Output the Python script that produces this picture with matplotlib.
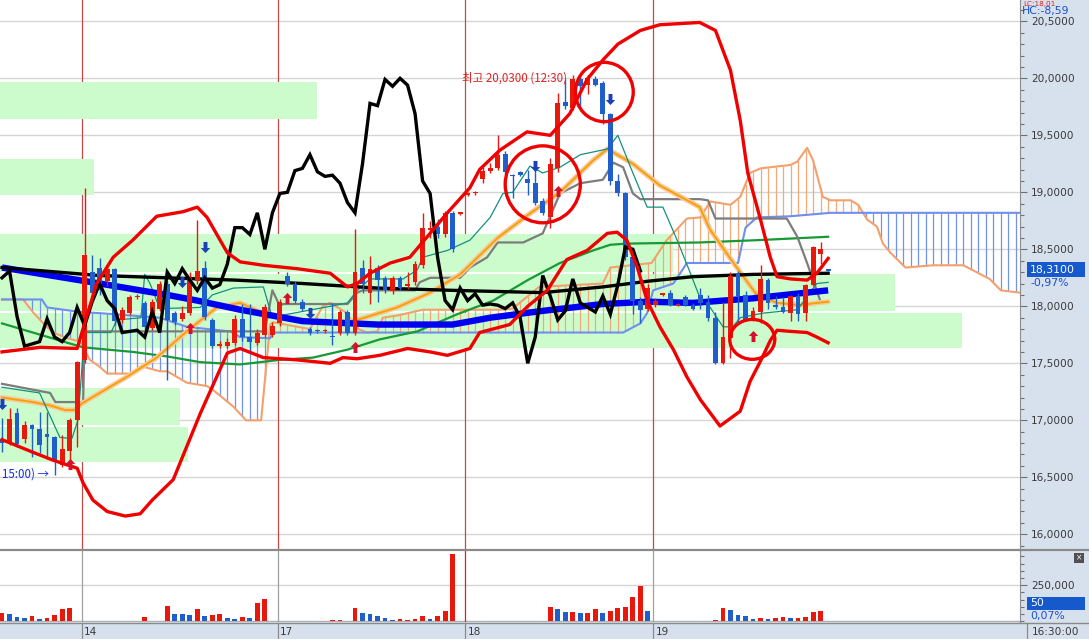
import numpy as np
import matplotlib
matplotlib.use("Agg")
import matplotlib.pyplot as plt
import matplotlib.transforms as mtransforms
from matplotlib.patches import Rectangle, Ellipse
from matplotlib.lines import Line2D
from matplotlib.path import Path
from matplotlib.ticker import FixedLocator, MultipleLocator, FuncFormatter

plt.rcParams['font.family'] = ['DejaVu Sans']
KR = ['Noto Sans CJK KR', 'DejaVu Sans']

# ---------------- data ----------------
opens = [16.84, 16.81, 17.06, 16.84, 16.96, 16.92, 16.88, 16.85, 16.61, 16.73,
         17.00, 17.53, 18.30, 18.34, 18.22, 18.33, 17.88, 17.94, 18.08, 18.03,
         17.81, 17.98, 18.20, 17.94, 17.89, 17.94, 18.22, 18.34, 17.88, 17.65,
         17.65, 17.68, 17.89, 17.73, 17.68, 17.75, 17.75, 17.85, 18.27, 18.20,
         18.04, 17.80, 17.79, 17.78, 17.74, 17.77, 17.95, 17.77, 18.34, 18.12,
         18.34, 18.25, 18.13, 18.25, 18.18, 18.21, 18.36, 18.67, 18.70, 18.63,
         18.82, 18.81, 18.98, 18.99, 19.12, 19.19, 19.21, 19.34, 19.15, 19.18,
         19.12, 19.08, 18.92, 18.78, 19.21, 19.79, 19.74, 19.99, 19.94, 19.99,
         19.96, 19.69, 19.10, 18.99, 18.43, 18.05, 17.98, 18.01, 18.10, 18.12,
         18.01, 18.08, 18.01, 18.10, 18.04, 17.90, 17.50, 17.72, 18.28, 18.10,
         17.89, 17.95, 18.23, 18.01, 17.99, 17.94, 18.09, 17.94, 18.19, 18.46,
         18.32]
highs = [17.02, 17.11, 17.11, 16.99, 16.97, 17.07, 17.07, 16.86, 16.87, 17.02,
         17.52, 19.04, 18.45, 18.42, 18.36, 18.34, 17.99, 18.10, 18.11, 18.05,
         18.06, 18.22, 18.22, 17.96, 18.00, 18.30, 18.76, 18.40, 17.90, 17.70,
         17.72, 17.92, 18.02, 18.02, 17.80, 18.02, 17.86, 18.06, 18.30, 18.22,
         18.06, 17.82, 17.80, 17.80, 18.03, 17.97, 17.97, 18.68, 18.41, 18.44,
         18.36, 18.27, 18.27, 18.27, 18.30, 18.40, 18.82, 18.75, 18.77, 18.84,
         18.84, 18.83, 19.00, 19.01, 19.22, 19.26, 19.50, 19.36, 19.16, 19.19,
         19.20, 19.20, 18.95, 19.30, 19.87, 19.99, 20.03, 20.02, 20.03, 20.02,
         19.98, 19.70, 19.16, 19.00, 18.50, 18.08, 18.20, 18.07, 18.12, 18.14,
         18.03, 18.10, 18.03, 18.16, 18.10, 17.95, 18.04, 18.30, 18.31, 18.13,
         17.99, 18.36, 18.25, 18.09, 18.08, 18.10, 18.12, 18.20, 18.53, 18.56,
         18.32]
lows = [16.72, 16.78, 16.77, 16.80, 16.68, 16.71, 16.66, 16.52, 16.59, 16.63,
        16.77, 17.50, 18.05, 18.10, 18.18, 17.84, 17.85, 17.92, 18.06, 17.80,
        17.79, 17.96, 17.35, 17.84, 17.87, 17.92, 18.20, 17.88, 17.63, 17.63,
        17.63, 17.66, 17.70, 17.60, 17.66, 17.73, 17.73, 17.83, 18.18, 18.03,
        17.96, 17.75, 17.77, 17.77, 17.66, 17.75, 17.75, 17.75, 18.12, 18.02,
        18.04, 18.12, 18.11, 18.14, 18.15, 18.19, 18.34, 18.60, 18.60, 18.61,
        18.48, 18.80, 18.97, 18.98, 19.08, 19.17, 19.20, 19.16, 18.95, 19.14,
        18.98, 18.89, 18.80, 18.69, 19.18, 19.73, 19.72, 19.76, 19.86, 19.93,
        19.60, 19.06, 18.97, 18.41, 17.93, 17.85, 17.96, 17.99, 18.09, 18.00,
        18.00, 18.00, 17.97, 17.98, 17.87, 17.49, 17.49, 17.55, 17.86, 17.87,
        17.87, 17.85, 17.98, 17.98, 17.94, 17.87, 17.87, 17.87, 18.18, 18.37,
        18.31]
closes = [16.80, 17.01, 16.79, 16.96, 16.92, 16.78, 16.85, 16.64, 16.75, 17.00,
          17.51, 18.45, 18.12, 18.14, 18.33, 17.87, 17.97, 18.08, 18.09, 17.82,
          18.04, 18.20, 17.88, 17.86, 17.94, 18.25, 18.31, 17.91, 17.65, 17.67,
          17.69, 17.89, 17.73, 17.69, 17.77, 17.99, 17.83, 18.04, 18.20, 18.05,
          17.98, 17.77, 17.78, 17.79, 17.73, 17.95, 17.77, 18.30, 18.20, 18.33,
          18.23, 18.14, 18.25, 18.16, 18.19, 18.37, 18.69, 18.69, 18.63, 18.82,
          18.50, 18.82, 18.99, 19.00, 19.19, 19.21, 19.33, 19.18, 19.14, 19.15,
          19.08, 18.91, 18.82, 19.25, 19.78, 19.76, 19.99, 19.93, 20.00, 19.94,
          19.69, 19.10, 18.99, 18.43, 18.05, 17.97, 18.16, 18.05, 18.11, 18.01,
          18.02, 18.01, 17.98, 18.03, 17.90, 17.50, 17.73, 18.27, 18.09, 17.88,
          17.96, 18.24, 18.03, 17.99, 17.95, 18.09, 17.93, 18.19, 18.52, 18.50,
          18.31]
volume_k = [60, 51, 30, 23, 37, 16, 23, 44, 86, 93,
            5, 5, 5, 5, 5, 5, 5, 5, 5, 30,
            5, 5, 106, 51, 51, 46, 86, 37, 44, 51,
            23, 16, 30, 23, 127, 155, 5, 5, 5, 5,
            5, 5, 5, 5, 9, 9, 5, 93, 58, 51,
            35, 23, 9, 16, 9, 16, 37, 19, 37, 72,
            468, 5, 5, 5, 5, 5, 5, 5, 5, 5,
            5, 5, 5, 100, 86, 65, 65, 58, 58, 86,
            58, 72, 93, 100, 169, 245, 72, 5, 5, 5,
            5, 5, 5, 5, 5, 9, 93, 79, 44, 37,
            16, 23, 16, 23, 30, 23, 23, 30, 65, 72,
            3]
volume_up = [1, 0, 0, 0, 1, 0, 1, 1, 1, 1,
             0, 0, 0, 1, 1, 1, 1, 0, 1, 1,
             0, 0, 1, 0, 0, 0, 1, 0, 1, 1,
             0, 0, 1, 0, 1, 1, 1, 0, 1, 1,
             1, 0, 1, 1, 1, 1, 0, 1, 0, 0,
             0, 0, 0, 1, 1, 1, 1, 0, 1, 1,
             1, 0, 0, 0, 1, 1, 1, 1, 0, 0,
             0, 0, 0, 1, 0, 0, 1, 0, 1, 1,
             0, 1, 1, 1, 1, 1, 0, 0, 0, 0,
             1, 1, 0, 1, 1, 1, 1, 0, 0, 0,
             0, 1, 0, 1, 1, 0, 1, 1, 1, 1,
             0]
lag_shift = 25

# overlay lines: (bar index, price) vertices
tenkan_x = [0, 5, 7.7, 9.3, 10.1, 11, 14.5, 15.3, 18.5, 19, 19.7, 21, 26.4, 28, 30.8, 34.8, 36, 38, 43.7, 46,
            47.3, 49, 53.4, 55.3, 56, 59.3, 62.3, 65, 66.7, 68, 70.3, 72, 74.3, 77, 80.6, 82, 84, 85.9, 88, 89.9,
            91.6, 92.9, 94.3, 96, 97.3, 98.3, 101.3, 105.9, 108.5, 110]
tenkan_y = [17.29, 17.24, 16.85, 16.84, 17.0, 17.77, 17.77, 17.88, 17.9, 18.28, 18.2, 17.98, 17.99, 18.1, 18.16,
            18.17, 17.9, 17.93, 18.0, 18.03, 18.14, 18.24, 18.24, 18.32, 18.43, 18.49, 18.58, 18.78, 18.99, 19.0,
            19.23, 19.17, 19.22, 19.33, 19.38, 19.5, 19.17, 18.87, 18.87, 18.58, 18.3, 18.08, 17.99, 17.82, 17.82,
            17.9, 17.94, 17.97, 18.2, 18.21]
kijun_x = [0, 4, 6.4, 7.1, 10.8, 11, 31, 35, 36, 37, 37.4, 46, 47.3, 48, 55, 55.6, 57, 61, 62.3, 64.6,
           66, 69.4, 72, 74.3, 77, 80, 81.4, 82.7, 84, 85, 92.9, 94, 95, 104.5, 105.9, 107.2, 109, 110]
kijun_y = [17.32, 17.27, 17.24, 17.16, 17.16, 17.78, 17.78, 17.78, 18.14, 18.0, 18.02, 18.02, 18.12, 18.14, 18.14,
           18.21, 18.25, 18.25, 18.34, 18.43, 18.56, 18.56, 18.64, 18.99, 19.08, 19.11, 19.26, 19.22, 18.99, 18.94,
           18.94, 18.93, 18.77, 18.77, 18.61, 18.38, 18.04, 18.04]
span_a_x = [0, 2.8, 4.1, 5.5, 6.8, 8.7, 10.4, 11.7, 13, 14, 17.4, 18.8, 21, 22, 24.6, 27.3, 28.6, 30.8, 32.5, 34.5,
            35.7, 36.1, 41, 42.7, 43.7, 45.7, 47.5, 48.6, 50, 50.7, 52.7, 56, 66.3, 68, 71.5, 80, 81, 86.5, 88.5,
            91.2, 93, 94.3, 97, 98.3, 99.6, 101, 105, 105.9, 107.2, 108, 109.3, 110.3, 113, 114, 115.2, 116.5,
            117.3, 118.3, 120.3, 124, 128, 131.5, 133, 135.5]
span_a_y = [18.06, 18.06, 17.95, 17.85, 17.77, 17.72, 17.69, 17.53, 17.47, 17.41, 17.41, 17.47, 17.43, 17.43, 17.33,
            17.3, 17.24, 17.12, 17.0, 17.0, 17.84, 17.86, 17.8, 18.0, 18.03, 17.95, 17.8, 17.77, 17.78, 17.9, 17.92,
            17.97, 17.97, 17.98, 18.17, 18.2, 18.34, 18.38, 18.58, 18.77, 18.78, 18.92, 18.89, 18.96,
            19.17, 19.21, 19.24, 19.27, 19.39, 19.28, 18.96, 18.93, 18.93, 18.89, 18.76, 18.7, 18.55, 18.47, 18.34,
            18.36, 18.36, 18.24, 18.14, 18.12]
span_b_x = [0, 5.3, 6, 10.4, 13, 21, 24.6, 30.4, 31.7, 35.7, 36.1, 82.7, 85, 85.9, 86.7, 89.4, 91.2, 98, 99,
            100.5, 105, 110.3, 135.5]
span_b_y = [18.06, 18.06, 17.99, 17.95, 17.94, 17.9, 17.82, 17.78, 17.73, 17.72, 17.77, 17.77, 17.85, 17.94, 18.14,
            18.2, 18.38, 18.38, 18.69, 18.78, 18.79, 18.82, 18.82]
ma_orange_x = [0, 4.1, 6.4, 8.4, 9.7, 10.7, 16.6, 20.6, 24.6, 28.6, 31.7, 34.8, 38, 42.7, 47.3, 52.6, 57, 61, 66,
               70, 74.3, 78.7, 80.6, 84, 87.6, 92.9, 94.3, 97.4, 100.5, 103.2, 106.3, 108.5, 110]
ma_orange_y = [17.2, 17.16, 17.13, 17.09, 17.09, 17.15, 17.38, 17.55, 17.78, 17.99, 18.03, 17.94, 17.9, 17.85,
               17.88, 17.99, 18.12, 18.28, 18.6, 18.8, 19.0, 19.28, 19.38, 19.25, 19.06, 18.87, 18.67, 18.38, 18.1,
               18.03, 18.01, 18.03, 18.04]
ma_green_x = [0, 4.1, 8.7, 10.8, 17.4, 22, 26.4, 31.7, 37, 41.4, 46, 50.3, 55.3, 60.6, 65.4, 70, 74.3, 78.7, 81,
              83.2, 92.9, 100.5, 110]
ma_green_y = [17.85, 17.77, 17.68, 17.64, 17.6, 17.56, 17.51, 17.49, 17.53, 17.55, 17.62, 17.71, 17.78, 17.93,
              18.05, 18.23, 18.38, 18.49, 18.54, 18.55, 18.56, 18.58, 18.61]
ma_blue_x = [0, 13, 22, 26, 31.7, 40, 50, 60, 65, 72, 80, 86, 92, 100, 110]
ma_blue_y = [18.34, 18.2, 18.1, 18.05, 17.97, 17.87, 17.84, 17.84, 17.9, 17.96, 18.02, 18.04, 18.03, 18.07, 18.14]
ma_black_x = [0, 13, 31, 40, 50, 60, 72, 80, 86, 92, 100, 110]
ma_black_y = [18.34, 18.27, 18.23, 18.2, 18.16, 18.14, 18.12, 18.17, 18.22, 18.26, 18.28, 18.29]
band_up_x = [0, 5.1, 10, 12.6, 14.8, 17.4, 20.6, 24.1, 26, 27.3, 30, 31.7, 34.8, 39.3, 43.7, 46, 47.3, 49, 51.7,
             54.3, 57, 59.3, 62.3, 63.6, 66.3, 69.9, 73, 75.6, 77.9, 80, 82, 85, 87.6, 92.9, 95, 97, 98.3, 99.3,
             101, 102.3, 103.2, 105, 107.2, 108.5, 110]
band_up_y = [17.6, 17.64, 17.63, 18.2, 18.43, 18.58, 18.79, 18.83, 18.87, 18.78, 18.47, 18.39, 18.36, 18.33, 18.29,
             18.17, 18.2, 18.29, 18.38, 18.43, 18.64, 18.82, 19.04, 19.2, 19.37, 19.53, 19.5, 19.69, 19.99, 20.16,
             20.3, 20.42, 20.47, 20.49, 20.42, 20.07, 19.63, 19.17, 18.76, 18.43, 18.26, 18.24, 18.23, 18.29, 18.42]
band_lo_x = [0, 4.1, 6.8, 10, 10.8, 12.1, 14, 16.4, 18.4, 20, 22.8, 26.4, 30, 31.7, 34.8, 39.3, 43.7, 45.4, 47.3,
             50.3, 54, 57, 59.3, 62.3, 63.6, 67.6, 70, 72.6, 75.2, 77.9, 80.6, 81.9, 83.2, 84.6, 85.9, 87.6, 89.4,
             91.2, 93, 95.6, 98.3, 99.6, 101, 102.3, 103.2, 105, 107.2, 108.5, 110]
band_lo_y = [16.83, 16.72, 16.65, 16.58, 16.45, 16.3, 16.2, 16.16, 16.18, 16.3, 16.48, 17.06, 17.59, 17.63, 17.55,
             17.53, 17.5, 17.55, 17.54, 17.57, 17.63, 17.6, 17.57, 17.63, 17.77, 17.84, 18.0, 18.14, 18.41, 18.49,
             18.64, 18.65, 18.58, 18.34, 18.05, 17.82, 17.62, 17.38, 17.18, 16.95, 17.08, 17.34, 17.52, 17.7, 17.79,
             17.78, 17.77, 17.73, 17.68]

# price-by-volume zones (low, high, relative volume %)
profile_low = [19.64, 18.98, 18.30, 17.96, 17.63, 16.96, 16.63]
profile_high = [19.97, 19.29, 18.63, 18.28, 17.94, 17.28, 16.94]
profile_pct = [31.1, 9.2, 66.0, 87.7, 94.3, 17.6, 18.4]

# signals
buy_idx = [9, 25, 38, 47, 74, 100]
buy_price = [16.62, 17.81, 18.07, 17.64, 19.01, 17.74]
sell_idx = [0, 24, 27, 41, 71, 81]
sell_price = [17.14, 18.21, 18.52, 17.94, 19.23, 19.82]

# highlight circles (center idx, center price, width in bars, height in price)
circle_idx = [72.0, 80.2, 99.9]
circle_price = [19.07, 19.88, 17.71]
circle_w = [10.0, 7.7, 6.0]
circle_h = [0.675, 0.52, 0.35]

day_pos = [10.6, 36.7, 61.7, 86.7]
day_labels = ['14', '17', '18', '19']
last_price = 18.31
last_change = '-0,97%'
last_volume = 50
last_vol_change = '0,07%'

# ---------------- figure ----------------
W, H, DPI = 1089, 639, 100
fig = plt.figure(figsize=(W / DPI, H / DPI), dpi=DPI)
fig.patch.set_facecolor('white')


def fx(px):
    return px / W


def fy(py):
    return 1 - py / H


PANEL = '#d7e1ee'
RED = '#e8190c'
BLUE = '#1f5fcc'
fig.add_artist(Rectangle((fx(1020), 0), 1 - fx(1020), 1, transform=fig.transFigure,
                         fc=PANEL, ec='none', zorder=-10))
fig.add_artist(Rectangle((0, 0), fx(1020), fy(622), transform=fig.transFigure,
                         fc=PANEL, ec='none', zorder=-10))

ax = fig.add_axes([0, fy(549), fx(1020), 549 / H])
vax = fig.add_axes([0, fy(622), fx(1020), 71 / H])
X0, X1 = -0.27, 135.55
ax.set_xlim(X0, X1)
ax.set_ylim(15.871, 20.687)
vax.set_xlim(X0, X1)
vax.set_ylim(-5000, 488000)

for a in (ax, vax):
    for s in ('top', 'left', 'bottom'):
        a.spines[s].set_visible(False)
    a.spines['right'].set_color('#8c8c8c')
    a.set_xticks([])
    a.yaxis.tick_right()

fmt_price = FuncFormatter(lambda v, p: f"{v:.4f}".replace('.', ','))
ax.yaxis.set_major_locator(FixedLocator(np.arange(16.0, 20.51, 0.5)))
ax.yaxis.set_minor_locator(MultipleLocator(0.1))
ax.yaxis.set_major_formatter(fmt_price)
for a in (ax, vax):
    a.tick_params(axis='y', which='major', direction='out', length=5, width=0.8,
                  colors='#707070', labelcolor='#3a3a3a', labelsize=7.6, pad=3)
    a.tick_params(axis='y', which='minor', direction='out', length=3, width=0.8, colors='#707070')
vax.yaxis.set_major_locator(FixedLocator([250000]))
vax.yaxis.set_minor_locator(MultipleLocator(50000))
vax.yaxis.set_major_formatter(FuncFormatter(lambda v, p: f"{int(v):,}"))

# grid & day lines
for v in np.arange(16.0, 20.51, 0.5):
    ax.axhline(v, color='#d5d5d5', lw=1, zorder=0.1)
for p in day_pos:
    ax.axvline(p, color='#c44a4a', lw=0.9, zorder=0.2)
for p, lab in zip(day_pos, day_labels):
    vax.axvline(p, color='#e02020' if lab == '18' else '#a0a0a0', lw=0.9, zorder=0.2)
vax.axhline(250000, color='#d5d5d5', lw=1, zorder=0.1)
vax.axhline(0, color='#b0b0b0', lw=1, zorder=0.1)

# price-by-volume zones
tr_ax_data = mtransforms.blended_transform_factory(ax.transAxes, ax.transData)
for lo, hi, pct in zip(profile_low, profile_high, profile_pct):
    ax.add_patch(Rectangle((0, lo), pct / 100, hi - lo, transform=tr_ax_data,
                           fc='#ccfccc', ec='none', zorder=0.5))

# ichimoku cloud hatching
k = np.arange(0, 136)
a_k = np.interp(k, span_a_x, span_a_y)
b_k = np.interp(k, span_b_x, span_b_y)
ax.vlines(k, np.minimum(a_k, b_k), np.maximum(a_k, b_k),
          colors=np.where(a_k >= b_k, '#f5a874', '#7094ee'), lw=0.9, zorder=1)
ax.plot(span_a_x, span_a_y, color='#f4a06c', lw=1.5, zorder=1.2)
ax.plot(span_b_x, span_b_y, color='#6f8ff0', lw=1.5, zorder=1.2)

# moving averages & ichimoku lines
ax.plot(ma_green_x, ma_green_y, color='#169a34', lw=1.6, zorder=1.5)
ax.plot(kijun_x, kijun_y, color='#7c7c7c', lw=1.6, zorder=1.6)
ax.plot(ma_orange_x, ma_orange_y, color='#fcc69a', lw=3.6, zorder=1.7, solid_capstyle='round')
ax.plot(ma_orange_x, ma_orange_y, color='#f2a200', lw=1.3, zorder=1.8)
ax.plot(tenkan_x, tenkan_y, color='#14907e', lw=0.9, zorder=1.9)
ax.plot(ma_blue_x, ma_blue_y, color='#0000f0', lw=4.6, zorder=2.2, solid_capstyle='butt')
ax.plot(ma_black_x, ma_black_y, color='#000000', lw=2.4, zorder=2.3)

# candles
x = np.arange(len(opens))
o, h, l, c = (np.array(v, dtype=float) for v in (opens, highs, lows, closes))
col = np.where(c >= o, RED, BLUE)
body_lo = np.minimum(o, c)
body_h = np.maximum(np.abs(c - o), 0.013)
ax.vlines(x, l, h, colors=col, lw=1.0, zorder=3)
ax.bar(x, body_h, bottom=body_lo, width=0.64, color=col, lw=0, zorder=3.1)

# lagging span (close shifted back)
ax.plot(x[:len(x) - lag_shift], c[lag_shift:], color='#000000', lw=2.4, zorder=3.5,
        solid_joinstyle='miter')

# envelope bands
ax.plot(band_up_x, band_up_y, color='#f00000', lw=2.4, zorder=4)
ax.plot(band_lo_x, band_lo_y, color='#f00000', lw=2.4, zorder=4)

# circles
for cx, cy, w, hh in zip(circle_idx, circle_price, circle_w, circle_h):
    ax.add_patch(Ellipse((cx, cy), w, hh, fill=False, ec='#f00000', lw=2.4, zorder=4.5))

# signal arrows
ARROW_UP = Path([(0, 1), (0.85, 0.1), (0.35, 0.1), (0.35, -1), (-0.35, -1), (-0.35, 0.1), (-0.85, 0.1), (0, 1)])
ARROW_DN = Path([(0, -1), (0.85, -0.1), (0.35, -0.1), (0.35, 1), (-0.35, 1), (-0.35, -0.1), (-0.85, -0.1), (0, -1)])
ax.plot(buy_idx, buy_price, ls='none', marker=ARROW_UP, ms=8, mfc='#d4102c', mec='none', zorder=5)
ax.plot(sell_idx, sell_price, ls='none', marker=ARROW_DN, ms=8, mfc='#1a3fb8', mec='none', zorder=5)

# annotations
ax.text(61.2, 20.005, '최고 20,0300 (12:30)', color='#e42222', fontsize=8.3, family=KR,
        va='center', ha='left', zorder=6)
ax.text(0.0, 16.53, '15:00) →', color='#1030e0', fontsize=8.3, family=KR,
        va='center', ha='left', zorder=6)

# volume bars
vcol = np.where(np.array(volume_up) == 1, RED, BLUE)
vax.bar(x, np.array(volume_k) * 1000, width=0.64, color=vcol, lw=0, zorder=2)

# separators
fig.add_artist(Line2D([0, 1], [fy(550), fy(550)], transform=fig.transFigure, color='#8a8a8a', lw=1.6, zorder=5))
fig.add_artist(Line2D([0, 1], [fy(622.5), fy(622.5)], transform=fig.transFigure, color='#8a8a8a', lw=1.0, zorder=5))
fig.add_artist(Line2D([fx(1027), fx(1027)], [0, fy(623)], transform=fig.transFigure, color='#8a8a8a', lw=0.9, zorder=5))

# date strip
tr_x_fig = mtransforms.blended_transform_factory(ax.transData, fig.transFigure)
for p, lab in zip(day_pos, day_labels):
    ax.plot([p, p], [0, fy(623)], transform=tr_x_fig, color='#8a8a8a', lw=0.9, clip_on=False)
    ax.text(p + 0.35, fy(632), lab, transform=tr_x_fig, fontsize=7.6, color='#3a3a3a',
            va='center', ha='left', clip_on=False)
fig.text(fx(1032), fy(632), '16:30:00', fontsize=7.6, color='#3a3a3a', va='center', ha='left')

# price side boxes
fig.add_artist(Rectangle((fx(1027), fy(277)), fx(58), 15 / H, transform=fig.transFigure,
                         fc='#1559cc', ec='none', zorder=6))
fig.text(fx(1030), fy(269.5), f"{last_price:.4f}".replace('.', ','), color='white', fontsize=7.8,
         va='center', ha='left', zorder=7)
fig.text(fx(1030), fy(283), last_change, color='#1a50d0', fontsize=7.8, va='center', ha='left', zorder=7)
fig.add_artist(Rectangle((fx(1027), fy(610)), fx(58), 13 / H, transform=fig.transFigure,
                         fc='#1559cc', ec='none', zorder=6))
fig.text(fx(1030), fy(603.5), str(last_volume), color='white', fontsize=7.8, va='center', ha='left', zorder=7)
fig.text(fx(1030), fy(616), last_vol_change, color='#1a50d0', fontsize=7.8, va='center', ha='left', zorder=7)
fig.add_artist(Rectangle((fx(1074), fy(563)), fx(10), 10 / H, transform=fig.transFigure,
                         fc='#505050', ec='none', zorder=6))
fig.text(fx(1079), fy(558), '×', color='white', fontsize=5.5, va='center', ha='center', zorder=7)

# top right info
fig.text(fx(1023), fy(3.8), 'LC:18,01', color='#e02020', fontsize=5.2, va='center', ha='left')
fig.text(fx(1022), fy(11), 'HC:-8,59', color='#1a50d0', fontsize=7.8, va='center', ha='left', zorder=8)

fig.savefig('out.png', dpi=DPI)
